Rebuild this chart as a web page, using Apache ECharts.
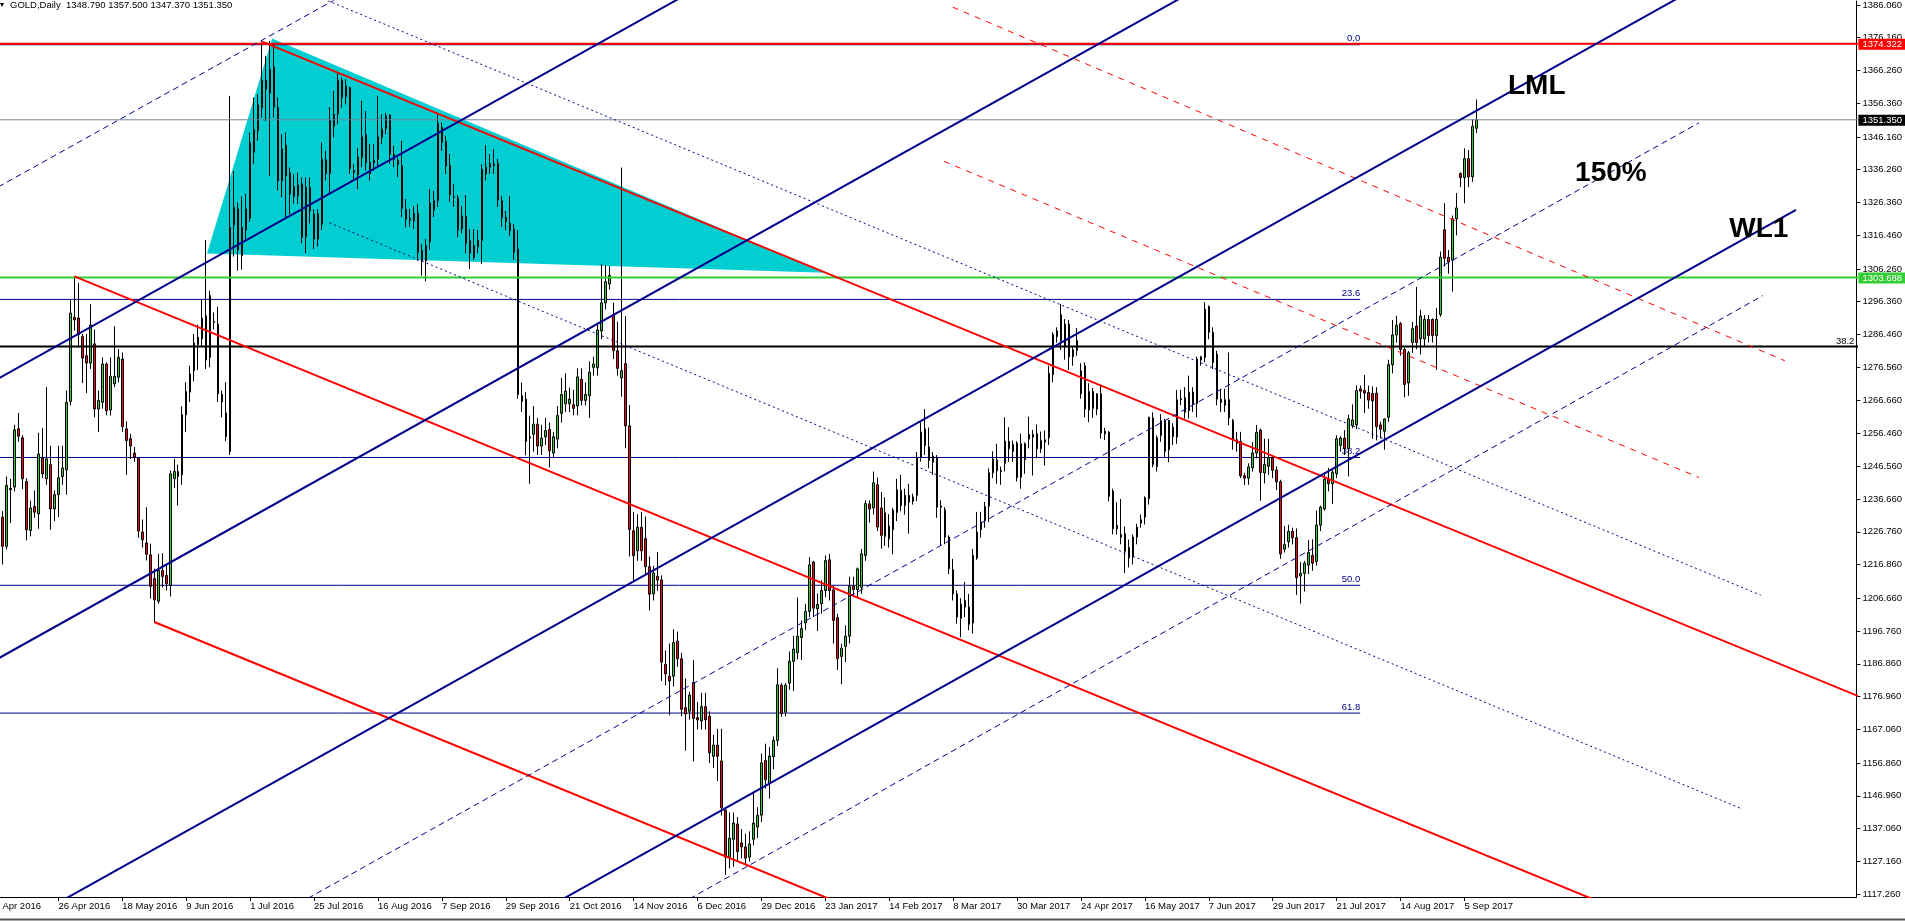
<!DOCTYPE html>
<html>
<head>
<meta charset="UTF-8">
<title>GOLD,Daily</title>
<script src="https://cdn.jsdelivr.net/npm/echarts/dist/echarts.min.js"></script>
<style>
  html, body { margin: 0; padding: 0; background: #fff; }
  #chart { width: 1905px; height: 921px; }
</style>
</head>
<body>
<div id="chart"></div>
<script type="text/javascript">
// bars are numbered from 4 Apr 2016 (= 0); the first visible one is 6 Apr 2016
var firstBar = 2;

var open = [
  1231.2, 1222.4, 1239.9, 1240.3, 1257.9, 1255.2, 1242.0, 1227.2, 1234.4, 1232.2,
  1249.1, 1242.8, 1247.1, 1233.7, 1238.0, 1243.5, 1245.5, 1266.2, 1291.6, 1291.4,
  1285.8, 1280.0, 1277.8, 1283.6, 1263.9, 1265.9, 1277.5, 1263.6, 1271.5, 1273.5,
  1279.0, 1257.9, 1254.9, 1250.6, 1249.0, 1226.7, 1223.4, 1219.8, 1212.6, 1205.8,
  1215.1, 1213.6, 1210.6, 1242.8, 1245.0, 1244.0, 1262.1, 1269.0, 1275.5, 1283.4,
  1285.1, 1292.1, 1279.5, 1290.4, 1289.6, 1268.3, 1262.7, 1251.0, 1319.5, 1324.4,
  1310.3, 1318.0, 1321.5, 1341.5, 1348.0, 1355.0, 1363.3, 1359.4, 1367.3, 1355.0,
  1332.9, 1343.7, 1335.4, 1331.1, 1328.4, 1331.9, 1316.0, 1330.9, 1322.8, 1315.3,
  1319.8, 1339.2, 1335.1, 1349.4, 1353.2, 1363.3, 1358.3, 1361.1, 1336.0, 1334.7,
  1339.9, 1346.8, 1338.6, 1338.3, 1339.4, 1346.0, 1348.7, 1352.8, 1340.9, 1339.2,
  1337.4, 1324.2, 1321.6, 1320.8, 1323.1, 1311.8, 1308.7, 1314.5, 1324.1, 1326.9,
  1349.0, 1344.8, 1337.6, 1328.1, 1327.7, 1318.5, 1322.1, 1314.8, 1309.7, 1313.0,
  1314.8, 1335.0, 1337.0, 1338.0, 1338.1, 1326.9, 1321.8, 1320.1, 1318.3, 1312.3,
  1267.9, 1266.9, 1255.5, 1256.3, 1259.3, 1252.7, 1255.5, 1257.7, 1250.6, 1254.8,
  1262.6, 1265.5, 1265.5, 1265.2, 1264.8, 1272.9, 1266.5, 1267.9, 1276.5, 1276.4,
  1287.5, 1296.0, 1301.7, 1292.5, 1281.5, 1273.3, 1277.6, 1258.8, 1227.1, 1221.0,
  1228.1, 1224.7, 1216.2, 1208.0, 1213.3, 1212.2, 1186.7, 1183.1, 1183.1, 1193.7,
  1188.4, 1173.6, 1172.5, 1181.2, 1170.6, 1169.6, 1173.9, 1171.0, 1158.9, 1162.3,
  1157.5, 1142.6, 1128.4, 1133.8, 1138.4, 1132.7, 1131.5, 1128.4, 1133.8, 1137.5,
  1141.1, 1157.6, 1150.7, 1158.8, 1163.7, 1180.4, 1172.3, 1181.0, 1187.6, 1190.2,
  1194.8, 1199.2, 1202.7, 1217.6, 1203.5, 1205.0, 1209.0, 1218.3, 1209.2, 1200.8,
  1189.1, 1192.1, 1195.2, 1210.3, 1209.3, 1210.0, 1219.6, 1235.2, 1234.0, 1241.0,
  1234.0, 1232.5, 1228.5, 1227.4, 1232.6, 1239.3, 1234.7, 1237.8, 1236.0, 1237.8,
  1249.3, 1257.9, 1252.4, 1247.8, 1249.3, 1234.6, 1233.4, 1225.2, 1215.3, 1208.0,
  1200.6, 1206.0, 1204.0, 1199.2, 1218.8, 1227.4, 1230.2, 1234.5, 1244.6, 1248.5,
  1245.3, 1247.5, 1254.1, 1251.1, 1253.6, 1243.3, 1248.5, 1254.8, 1256.2, 1256.4,
  1251.9, 1253.9, 1255.2, 1274.3, 1285.8, 1292.4, 1282.6, 1289.6, 1279.7, 1281.6,
  1268.5, 1277.0, 1263.6, 1269.2, 1263.9, 1268.5, 1257.2, 1256.9, 1239.1, 1228.7,
  1225.9, 1226.2, 1222.0, 1219.1, 1225.2, 1229.4, 1231.2, 1236.8, 1261.2, 1246.5,
  1255.9, 1260.4, 1251.6, 1258.4, 1255.4, 1266.7, 1262.9, 1263.4, 1269.0, 1265.6,
  1278.7, 1279.5, 1294.9, 1287.1, 1280.5, 1266.9, 1265.0, 1266.7, 1260.4, 1254.6,
  1254.1, 1243.7, 1243.0, 1246.1, 1250.6, 1257.5, 1244.6, 1246.6, 1249.2, 1245.4,
  1241.9, 1221.5, 1223.8, 1226.9, 1225.0, 1213.4, 1214.2, 1216.7, 1219.6, 1217.8,
  1228.8, 1233.7, 1242.7, 1241.3, 1244.4, 1252.9, 1255.1, 1252.0, 1258.9, 1259.1,
  1270.0, 1269.5, 1268.9, 1268.6, 1268.7, 1259.1, 1257.2, 1261.4, 1277.3, 1286.3,
  1289.7, 1281.9, 1271.8, 1284.0, 1289.0, 1285.1, 1285.1, 1291.0, 1291.0, 1286.1,
  1292.5, 1318.1, 1309.8, 1308.9, 1321.4, 1335.1, 1333.9, 1339.6, 1334.1, 1348.79
];
var high = [
  1233.0, 1243.5, 1242.8, 1259.1, 1262.7, 1256.0, 1243.0, 1236.2, 1239.3, 1256.7,
  1258.1, 1270.5, 1252.8, 1239.3, 1252.8, 1252.8, 1269.5, 1296.9, 1304.0, 1302.0,
  1286.6, 1286.6, 1295.6, 1287.9, 1269.5, 1279.5, 1278.0, 1279.5, 1288.9, 1282.0,
  1281.0, 1260.2, 1256.4, 1252.4, 1249.3, 1230.5, 1234.2, 1223.2, 1215.6, 1220.1,
  1220.3, 1216.6, 1245.3, 1248.8, 1247.1, 1264.7, 1272.0, 1277.0, 1286.6, 1289.4,
  1296.9, 1315.0, 1299.7, 1293.1, 1294.8, 1269.5, 1272.0, 1358.6, 1335.9, 1326.4,
  1328.2, 1328.9, 1347.5, 1358.1, 1359.1, 1375.0, 1370.7, 1375.2, 1374.2, 1358.1,
  1347.0, 1347.5, 1336.9, 1334.9, 1335.4, 1333.9, 1333.9, 1333.9, 1324.3, 1324.3,
  1344.5, 1342.0, 1355.2, 1360.1, 1365.3, 1364.1, 1363.6, 1361.3, 1337.9, 1342.9,
  1357.1, 1354.0, 1344.0, 1344.0, 1358.6, 1353.0, 1353.5, 1353.0, 1343.5, 1339.9,
  1345.0, 1327.4, 1324.4, 1325.3, 1325.8, 1313.8, 1315.3, 1330.4, 1329.9, 1353.0,
  1350.5, 1346.5, 1341.0, 1331.9, 1328.6, 1325.3, 1328.6, 1318.3, 1318.3, 1318.0,
  1337.9, 1343.7, 1341.0, 1342.5, 1339.5, 1328.4, 1323.8, 1328.4, 1319.8, 1318.0,
  1271.9, 1269.0, 1261.9, 1264.8, 1261.2, 1259.1, 1261.2, 1259.8, 1257.0, 1264.8,
  1273.3, 1274.7, 1270.4, 1269.7, 1276.2, 1276.2, 1271.9, 1278.3, 1279.7, 1289.6,
  1307.7, 1307.4, 1307.1, 1296.0, 1290.3, 1336.9, 1292.0, 1265.1, 1232.8, 1232.1,
  1232.8, 1231.4, 1219.3, 1216.5, 1220.7, 1213.6, 1190.9, 1193.0, 1197.3, 1196.6,
  1190.2, 1182.4, 1178.4, 1188.0, 1175.3, 1178.1, 1178.1, 1172.5, 1165.4, 1167.2,
  1167.2, 1143.3, 1141.9, 1141.9, 1140.5, 1136.9, 1135.5, 1136.2, 1148.3, 1143.5,
  1159.7, 1162.7, 1161.7, 1164.9, 1185.5, 1181.0, 1181.0, 1190.6, 1195.3, 1206.9,
  1200.0, 1205.0, 1219.1, 1218.0, 1208.1, 1212.1, 1219.6, 1220.1, 1210.4, 1202.0,
  1192.9, 1198.5, 1213.2, 1213.2, 1216.0, 1221.6, 1236.3, 1236.3, 1245.0, 1243.2,
  1238.8, 1237.2, 1232.1, 1234.0, 1242.8, 1244.0, 1239.8, 1241.3, 1238.3, 1250.9,
  1259.9, 1263.9, 1258.3, 1250.9, 1250.0, 1236.3, 1234.2, 1225.7, 1218.6, 1209.0,
  1206.7, 1211.6, 1208.0, 1221.6, 1232.8, 1232.8, 1235.8, 1245.9, 1251.1, 1253.4,
  1246.5, 1261.4, 1258.4, 1254.4, 1254.2, 1256.4, 1253.8, 1261.6, 1257.6, 1259.2,
  1257.1, 1257.4, 1277.0, 1287.1, 1288.6, 1295.7, 1291.1, 1290.8, 1282.8, 1288.4,
  1277.7, 1278.0, 1271.7, 1270.3, 1268.7, 1271.3, 1258.2, 1257.2, 1239.8, 1235.7,
  1236.7, 1228.4, 1224.4, 1226.0, 1229.2, 1232.0, 1237.5, 1261.6, 1262.9, 1255.9,
  1262.4, 1260.9, 1260.6, 1259.6, 1269.7, 1269.7, 1270.5, 1274.0, 1270.5, 1279.7,
  1280.0, 1296.2, 1295.2, 1288.6, 1281.5, 1270.0, 1270.0, 1281.0, 1260.9, 1257.0,
  1257.0, 1244.6, 1247.5, 1253.9, 1259.1, 1258.0, 1254.9, 1254.9, 1249.7, 1246.6,
  1242.5, 1228.5, 1228.9, 1228.0, 1227.8, 1217.6, 1218.0, 1224.3, 1224.5, 1233.2,
  1234.7, 1244.6, 1246.1, 1245.6, 1256.0, 1255.7, 1257.5, 1262.2, 1265.3, 1271.0,
  1271.0, 1274.2, 1271.0, 1270.7, 1270.5, 1260.0, 1261.1, 1278.8, 1290.8, 1292.1,
  1290.2, 1282.5, 1281.4, 1290.2, 1300.8, 1293.9, 1292.3, 1292.3, 1291.3, 1294.4,
  1311.5, 1326.1, 1312.0, 1322.4, 1329.2, 1335.4, 1342.7, 1342.2, 1351.5, 1357.5
];
var low = [
  1216.9, 1221.5, 1229.4, 1239.0, 1254.0, 1239.7, 1224.2, 1225.4, 1231.0, 1227.7,
  1243.0, 1241.0, 1227.4, 1230.0, 1231.2, 1241.0, 1238.0, 1265.0, 1287.6, 1282.4,
  1271.7, 1268.7, 1276.0, 1261.4, 1256.9, 1264.0, 1262.0, 1262.0, 1270.5, 1272.0,
  1257.0, 1244.0, 1248.8, 1248.0, 1225.0, 1222.0, 1218.1, 1206.6, 1199.5, 1205.0,
  1210.0, 1209.0, 1207.2, 1240.0, 1234.7, 1241.0, 1256.9, 1266.0, 1272.3, 1275.7,
  1283.0, 1276.0, 1276.5, 1288.0, 1266.0, 1261.4, 1254.2, 1250.0, 1310.0, 1305.7,
  1306.0, 1315.0, 1320.5, 1338.0, 1345.0, 1352.0, 1351.0, 1334.4, 1352.0, 1330.0,
  1327.9, 1321.8, 1322.8, 1326.0, 1325.9, 1314.0, 1311.0, 1320.0, 1312.3, 1313.0,
  1318.0, 1333.0, 1329.1, 1346.0, 1350.0, 1355.0, 1356.0, 1335.0, 1333.0, 1330.4,
  1337.0, 1336.0, 1333.0, 1336.0, 1337.0, 1344.0, 1347.0, 1338.0, 1337.0, 1334.0,
  1322.0, 1318.8, 1319.0, 1318.3, 1308.7, 1304.2, 1302.5, 1312.0, 1322.0, 1325.0,
  1342.0, 1335.0, 1326.5, 1325.0, 1315.8, 1317.0, 1311.0, 1306.2, 1309.0, 1311.0,
  1307.7, 1333.0, 1335.0, 1335.0, 1325.0, 1319.0, 1318.0, 1316.3, 1309.0, 1267.0,
  1263.0, 1249.9, 1241.3, 1251.0, 1250.0, 1250.0, 1253.0, 1246.3, 1249.0, 1252.0,
  1259.8, 1263.0, 1263.0, 1262.0, 1262.0, 1265.0, 1265.0, 1261.2, 1274.0, 1274.0,
  1285.0, 1294.0, 1300.0, 1279.0, 1274.0, 1267.6, 1252.0, 1219.3, 1211.9, 1218.0,
  1218.0, 1214.0, 1203.0, 1206.0, 1209.0, 1181.7, 1180.3, 1171.3, 1180.0, 1186.0,
  1171.0, 1160.6, 1170.0, 1157.4, 1167.0, 1167.0, 1167.0, 1156.8, 1155.4, 1151.4,
  1141.0, 1123.0, 1125.0, 1125.5, 1127.0, 1128.0, 1126.0, 1127.0, 1132.0, 1134.2,
  1139.0, 1149.1, 1146.1, 1155.0, 1162.0, 1170.8, 1171.0, 1179.0, 1178.6, 1188.2,
  1188.0, 1197.0, 1201.0, 1201.0, 1196.8, 1202.0, 1207.0, 1206.0, 1193.0, 1185.0,
  1180.7, 1187.4, 1193.0, 1207.0, 1207.0, 1208.0, 1218.0, 1229.6, 1232.0, 1227.0,
  1221.7, 1222.5, 1222.0, 1220.0, 1230.0, 1233.0, 1232.0, 1226.2, 1235.0, 1236.0,
  1248.0, 1250.0, 1246.0, 1244.0, 1231.0, 1222.6, 1223.0, 1214.0, 1206.0, 1199.0,
  1194.9, 1201.0, 1197.0, 1196.0, 1218.3, 1225.0, 1228.0, 1229.7, 1243.0, 1241.3,
  1241.0, 1245.0, 1248.0, 1248.0, 1242.0, 1239.8, 1244.3, 1252.0, 1243.8, 1249.0,
  1250.6, 1246.8, 1253.0, 1272.0, 1284.0, 1281.8, 1278.8, 1275.7, 1277.0, 1280.0,
  1267.0, 1261.4, 1259.9, 1261.2, 1262.0, 1254.9, 1254.5, 1236.0, 1226.0, 1226.0,
  1223.0, 1214.3, 1216.0, 1216.9, 1223.0, 1228.0, 1229.0, 1235.0, 1246.3, 1245.0,
  1254.0, 1249.0, 1247.8, 1253.0, 1253.4, 1265.0, 1261.0, 1261.0, 1263.0, 1261.4,
  1277.0, 1278.0, 1285.0, 1276.0, 1265.0, 1263.0, 1263.0, 1259.0, 1251.6, 1251.0,
  1243.0, 1240.9, 1241.0, 1245.0, 1249.0, 1236.2, 1241.4, 1244.0, 1243.0, 1239.4,
  1218.6, 1220.5, 1222.0, 1223.0, 1207.7, 1205.1, 1208.7, 1214.0, 1215.0, 1216.5,
  1227.0, 1233.2, 1239.0, 1235.2, 1243.0, 1251.0, 1250.0, 1243.5, 1258.1, 1257.8,
  1267.0, 1262.7, 1264.0, 1254.9, 1254.4, 1255.0, 1251.6, 1260.0, 1274.7, 1284.0,
  1280.0, 1267.4, 1267.9, 1280.9, 1282.0, 1280.4, 1283.0, 1284.0, 1284.0, 1275.7,
  1291.8, 1307.0, 1304.8, 1299.4, 1316.4, 1331.0, 1326.1, 1331.0, 1332.6, 1347.37
];
var close = [
  1222.4, 1240.8, 1239.5, 1257.6, 1255.7, 1242.8, 1227.4, 1234.0, 1232.7, 1250.3,
  1244.3, 1248.8, 1233.7, 1238.0, 1243.1, 1246.1, 1265.9, 1292.9, 1290.8, 1286.4,
  1279.3, 1277.8, 1289.3, 1263.9, 1266.5, 1277.5, 1263.4, 1273.8, 1273.8, 1279.5,
  1258.6, 1254.4, 1252.7, 1249.3, 1227.0, 1224.4, 1220.0, 1210.3, 1206.2, 1215.1,
  1213.3, 1211.1, 1244.3, 1245.0, 1243.5, 1262.2, 1269.2, 1274.5, 1283.9, 1285.6,
  1291.4, 1278.7, 1298.2, 1290.1, 1268.5, 1266.0, 1255.6, 1318.8, 1324.9, 1312.0,
  1318.8, 1324.4, 1344.5, 1348.5, 1355.9, 1363.3, 1360.6, 1366.6, 1355.2, 1332.9,
  1342.5, 1334.4, 1328.9, 1328.2, 1331.7, 1315.8, 1330.9, 1323.8, 1315.3, 1323.0,
  1339.5, 1335.1, 1351.2, 1353.0, 1363.3, 1358.1, 1361.6, 1336.6, 1335.4, 1340.1,
  1346.2, 1338.4, 1335.1, 1339.1, 1346.2, 1348.5, 1352.5, 1340.9, 1339.4, 1337.9,
  1324.6, 1321.3, 1321.0, 1323.0, 1311.3, 1308.7, 1313.3, 1326.2, 1326.9, 1350.3,
  1344.5, 1337.4, 1328.7, 1327.9, 1318.0, 1322.3, 1314.0, 1311.0, 1313.3, 1315.0,
  1336.4, 1337.0, 1338.1, 1337.5, 1327.1, 1321.8, 1320.6, 1317.8, 1311.3, 1268.3,
  1266.2, 1254.1, 1255.1, 1259.3, 1252.7, 1255.1, 1257.4, 1251.3, 1255.5, 1261.9,
  1268.3, 1269.3, 1266.9, 1264.1, 1273.6, 1266.5, 1268.3, 1275.0, 1277.5, 1287.8,
  1296.0, 1302.4, 1304.3, 1281.5, 1276.2, 1275.5, 1258.8, 1227.5, 1219.6, 1228.1,
  1221.0, 1216.2, 1207.9, 1214.3, 1212.2, 1187.4, 1183.8, 1181.7, 1193.3, 1188.4,
  1173.1, 1171.7, 1177.4, 1170.3, 1169.9, 1173.9, 1169.9, 1160.0, 1162.3, 1158.9,
  1143.3, 1128.4, 1134.1, 1138.7, 1130.1, 1131.5, 1128.1, 1132.4, 1138.7, 1141.0,
  1156.9, 1151.9, 1159.0, 1163.7, 1180.5, 1171.8, 1180.4, 1187.6, 1191.3, 1195.2,
  1197.5, 1202.7, 1216.8, 1203.7, 1204.8, 1209.0, 1218.1, 1209.0, 1200.0, 1188.5,
  1191.6, 1195.2, 1210.3, 1209.3, 1215.6, 1220.1, 1235.3, 1233.7, 1241.6, 1228.2,
  1225.7, 1225.4, 1224.6, 1233.4, 1239.5, 1234.7, 1237.8, 1235.7, 1237.3, 1249.3,
  1256.9, 1252.9, 1248.3, 1249.7, 1234.2, 1234.2, 1225.2, 1215.6, 1208.0, 1201.0,
  1204.9, 1204.0, 1198.8, 1219.6, 1226.7, 1229.7, 1234.4, 1244.6, 1248.8, 1245.2,
  1245.0, 1254.2, 1251.9, 1253.2, 1243.1, 1253.4, 1253.4, 1256.2, 1255.4, 1251.9,
  1254.4, 1254.6, 1274.7, 1286.4, 1287.6, 1284.6, 1289.6, 1279.7, 1281.8, 1284.6,
  1275.5, 1263.9, 1269.2, 1264.1, 1268.5, 1256.6, 1256.4, 1237.5, 1227.7, 1227.7,
  1225.2, 1220.9, 1218.9, 1225.2, 1228.2, 1230.4, 1237.1, 1261.4, 1247.1, 1255.2,
  1260.4, 1251.1, 1260.4, 1255.6, 1266.7, 1267.0, 1267.3, 1269.0, 1265.4, 1279.0,
  1279.7, 1294.1, 1287.1, 1278.0, 1266.9, 1265.9, 1266.7, 1261.2, 1254.6, 1253.5,
  1243.7, 1243.0, 1246.4, 1250.6, 1256.8, 1244.7, 1247.1, 1249.2, 1245.4, 1241.9,
  1220.1, 1222.9, 1226.9, 1225.0, 1212.9, 1214.2, 1217.3, 1220.5, 1217.3, 1228.8,
  1234.2, 1242.7, 1241.3, 1244.8, 1254.9, 1255.1, 1252.0, 1260.9, 1260.6, 1269.5,
  1269.3, 1268.7, 1266.6, 1266.4, 1258.6, 1257.8, 1260.9, 1277.3, 1286.3, 1289.2,
  1281.9, 1271.3, 1280.9, 1288.2, 1284.0, 1292.0, 1291.0, 1286.1, 1286.1, 1291.0,
  1309.8, 1309.5, 1308.4, 1321.4, 1324.7, 1333.9, 1339.6, 1334.1, 1349.4, 1351.35
];

// date labels under the chart, one every 16 bars
var tickBars = [0, 16, 32, 48, 64, 80, 96, 112, 128, 144, 160, 176, 192, 208, 224, 240, 256, 272, 288, 304, 320, 336, 352, 368];
var tickDates = ['4 Apr 2016', '26 Apr 2016', '18 May 2016', '9 Jun 2016', '1 Jul 2016', '25 Jul 2016', '16 Aug 2016',
  '7 Sep 2016', '29 Sep 2016', '21 Oct 2016', '14 Nov 2016', '6 Dec 2016', '29 Dec 2016', '23 Jan 2017',
  '14 Feb 2017', '8 Mar 2017', '30 Mar 2017', '24 Apr 2017', '16 May 2017', '7 Jun 2017', '29 Jun 2017',
  '21 Jul 2017', '14 Aug 2017', '5 Sep 2017'];

// price scale labels on the right
var priceTicks = [1386.06, 1376.16, 1366.26, 1356.36, 1346.16, 1336.26, 1326.36, 1316.46, 1306.26, 1296.36,
  1286.46, 1276.56, 1266.66, 1256.46, 1246.56, 1236.66, 1226.76, 1216.86, 1206.66, 1196.76, 1186.86,
  1176.96, 1167.06, 1156.86, 1146.96, 1137.06, 1127.16, 1117.26];

// fibonacci retracement
var fibLevels = [1374.05, 1297.05, 1249.24, 1210.60, 1171.96];
var fibNames = ['0.0', '23.6', '38.2', '50.0', '61.8'];
var fibEndBar = 341.9;

// horizontal lines
var resistPrice = 1374.322;
var bidPrice = 1351.35;
var supportPrice = 1303.688;
var blackPrice = 1282.77;

// drawn objects, as [barA, priceA, barB, priceB]
var redSolid = [[67, 1375.0, 470, 1175.4], [20, 1304.0, 470, 1081.1], [40, 1199.5, 470, 986.5]];
var redDash = [[239.9, 1385.4, 448.2, 1278.5], [237.7, 1338.8, 426.7, 1243.2]];
var blueSolid = [[-10, 1265.7, 200, 1407.3], [-10, 1181.1, 300, 1390.2], [-10, 1097.1, 430, 1393.9], [100, 1087.2, 451.0, 1324.1]];
var blueDash = [[-10, 1323.7, 100, 1397.6], [50, 1096.8, 426.7, 1350.4], [150, 1099.5, 442.7, 1298.2]];
var blueDot = [[83.85, 1320.2, 437.25, 1143.1], [80, 1389.1, 442.2, 1207.6]];

// triangle corners
var triBars = [53.2, 69.5, 208];
var triPrices = [1310.9, 1375.9, 1305.1];

// text notes: [bar, price, text]
var notes = [[378.9, 1361.6, 'LML'], [395.7, 1335.2, '150%'], [434.3, 1318.1, 'WL1']];

var FONT = "'Liberation Sans', Arial, sans-serif";
var NAVY = '#00008b';
// 4 px per bar, bar centres land on half pixels so the 1px outlines stay sharp
var xMin = 1.375, xMax = 466.125, yMin = 1116.35, yMax = 1387.27;

var candles = [];
for (var k = 0; k < open.length; k++) {
  candles.push([firstBar + k, open[k], close[k], low[k], high[k]]);
}

function seg(p, color, width, type, z) {
  return {
    type: 'line', data: [[p[0], p[1]], [p[2], p[3]]],
    symbol: 'none', silent: true, clip: true, z: z,
    lineStyle: { color: color, width: width, type: type }
  };
}
function flat(price, x0, x1, color, width, z) {
  return seg([x0, price, x1, price], color, width, 'solid', z);
}

var series = [];
series.push({
  type: 'custom', z: 1, silent: true, clip: true,
  data: [[triBars[0], triPrices[0]]],
  encode: { x: 0, y: 1 },
  renderItem: function (params, api) {
    var pts = [];
    for (var j = 0; j < triBars.length; j++) pts.push(api.coord([triBars[j], triPrices[j]]));
    return { type: 'polygon', shape: { points: pts }, style: { fill: '#00ced1' } };
  }
});
fibLevels.forEach(function (lv) { series.push(flat(lv, -10, fibEndBar, NAVY, 1, 2)); });
series.push({
  type: 'candlestick', z: 3, silent: true,
  data: candles,
  encode: { x: 0, y: [1, 2, 3, 4] },
  barWidth: 2,
  itemStyle: { color: '#32cd32', color0: '#ff0000', borderColor: '#000', borderColor0: '#000', borderWidth: 1 }
});
series.push(flat(bidPrice, -10, 500, '#778899', 1, 4));
series.push(flat(resistPrice, -10, 500, '#ff0000', 2, 4));
series.push(flat(supportPrice, -10, 500, '#32cd32', 2, 4));
series.push(flat(blackPrice, -10, 500, '#000', 2, 4));
redSolid.forEach(function (p) { series.push(seg(p, '#ff0000', 2, 'solid', 4)); });
redDash.forEach(function (p) { series.push(seg(p, '#ff0000', 1, [6, 6], 4)); });
blueSolid.forEach(function (p) { series.push(seg(p, NAVY, 2, 'solid', 4)); });
blueDash.forEach(function (p) { series.push(seg(p, NAVY, 1, [6, 4], 4)); });
blueDot.forEach(function (p) { series.push(seg(p, NAVY, 1, [2, 3], 4)); });

var chart = echarts.init(document.getElementById('chart'));
chart.setOption({
  animation: false,
  backgroundColor: '#fff',
  grid: { left: 0, right: 46, top: 0, bottom: 24, containLabel: false },
  xAxis: {
    type: 'value', min: xMin, max: xMax,
    axisLine: { onZero: false, lineStyle: { color: '#000', width: 1 } },
    axisTick: { customValues: tickBars, length: 4, lineStyle: { color: '#000' } },
    axisLabel: {
      customValues: tickBars, align: 'left', margin: 4, color: '#000', fontSize: 9.5, fontFamily: FONT,
      formatter: function (v) { return tickDates[tickBars.indexOf(v)]; }
    },
    splitLine: { show: false }
  },
  yAxis: {
    type: 'value', position: 'right', min: yMin, max: yMax,
    axisLine: { show: true, lineStyle: { color: '#000', width: 1 } },
    axisTick: { show: true, length: 4, customValues: priceTicks, lineStyle: { color: '#000' } },
    axisLabel: {
      customValues: priceTicks, margin: 6, color: '#000', fontSize: 9.5, fontFamily: FONT,
      formatter: function (v) { return v.toFixed(3); }
    },
    splitLine: { show: false }
  },
  series: series
});

// annotations placed through the chart's own scales
function at(b, p) { return chart.convertToPixel({ gridIndex: 0 }, [b, p]); }
var g = [];
var rightX = at(xMax, yMin)[0];
var bottomY = at(xMax, yMin)[1];

g.push({ type: 'polygon', z: 10, shape: { points: [[0, 3], [4, 3], [2, 7]] }, style: { fill: '#000' } });
g.push({ type: 'text', z: 10, x: 10, y: 5, style: {
  text: 'GOLD,Daily  1348.790 1357.500 1347.370 1351.350', fill: '#000',
  fontSize: 9.5, fontFamily: FONT, verticalAlign: 'middle' } });

// first date label sits left of the visible area
var p0 = at(tickBars[0], yMin);
g.push({ type: 'text', z: 10, x: p0[0], y: bottomY + 4, style: {
  text: tickDates[0], fill: '#000', fontSize: 9.5, fontFamily: FONT, verticalAlign: 'top' } });

fibLevels.forEach(function (lv, j) {
  var q = at(fibEndBar, lv);
  g.push({ type: 'text', z: 2, x: q[0], y: q[1] - 6, style: {
    text: fibNames[j], fill: NAVY, fontSize: 9.5, fontFamily: FONT, align: 'right', verticalAlign: 'middle' } });
});
var qb = at(xMax, blackPrice);
g.push({ type: 'text', z: 5, x: rightX - 2, y: qb[1] - 5.5, style: {
  text: '38.2', fill: '#000', fontSize: 9.5, fontFamily: FONT, align: 'right', verticalAlign: 'middle' } });

[[resistPrice, '#ff0000'], [bidPrice, '#000'], [supportPrice, '#32cd32']].forEach(function (b) {
  var y = at(xMax, b[0])[1];
  g.push({ type: 'rect', z: 20, shape: { x: rightX + 2, y: y - 5, width: 1905 - rightX - 2, height: 11 }, style: { fill: b[1] } });
  g.push({ type: 'text', z: 21, x: rightX + 6, y: y + 0.5, style: {
    text: b[0].toFixed(3), fill: '#fff', fontSize: 9.5, fontFamily: FONT, verticalAlign: 'middle' } });
});

notes.forEach(function (n) {
  var q = at(n[0], n[1]);
  g.push({ type: 'text', z: 6, x: q[0], y: q[1], style: {
    text: n[2], fill: '#000', fontSize: 28, fontWeight: 'bold', fontFamily: FONT, verticalAlign: 'middle' } });
});

g.push({ type: 'line', z: 10, shape: { x1: 0, y1: 919.5, x2: 1905, y2: 919.5 }, style: { stroke: '#555', lineWidth: 2 } });

chart.setOption({ graphic: g });
</script>
</body>
</html>
